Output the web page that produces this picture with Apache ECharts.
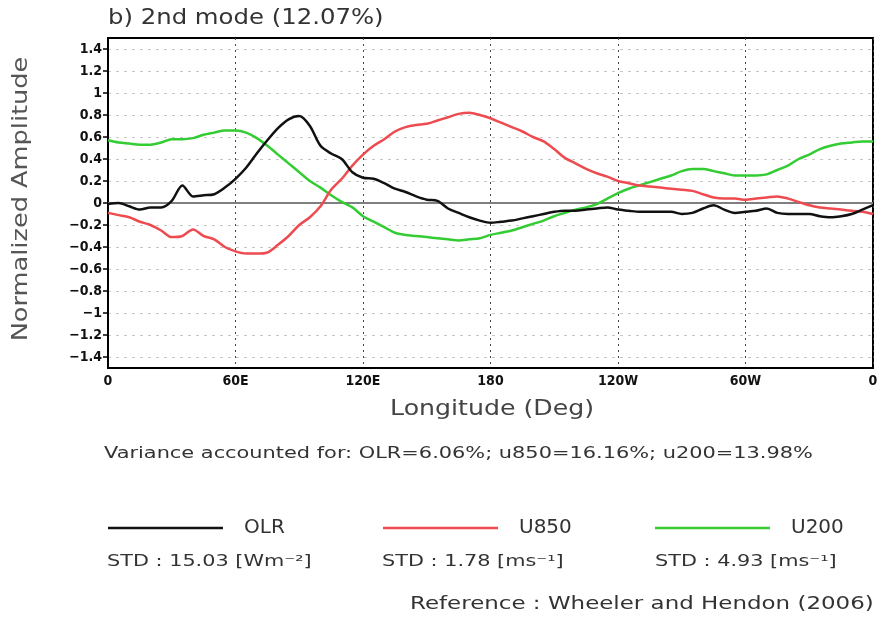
<!DOCTYPE html>
<html>
<head>
<meta charset="utf-8">
<script src="https://cdn.jsdelivr.net/npm/echarts@6/dist/echarts.min.js"></script>
<style>
  html, body { margin: 0; padding: 0; background: #fff; }
  #chart { width: 877px; height: 618px; }
</style>
</head>
<body>
<div id="chart"></div>
<script>
// Longitudes (deg east, 0..360) at 5-degree spacing
const longitudes = [0,5,10,15,20,25,30,35,40,45,50,55,60,65,70,75,80,85,90,95,100,105,110,115,120,125,130,135,140,145,150,155,160,165,170,175,180,185,190,195,200,205,210,215,220,225,230,235,240,245,250,255,260,265,270,275,280,285,290,295,300,305,310,315,320,325,330,335,340,345,350,355,360];

// EOF 2 structures (normalized amplitude)
const olr = [-0.01,0.00,-0.03,-0.06,-0.04,-0.04,0.02,0.16,0.06,0.07,0.08,0.14,0.22,0.32,0.45,0.57,0.68,0.76,0.79,0.70,0.52,0.45,0.40,0.28,0.23,0.22,0.18,0.13,0.10,0.06,0.03,0.02,-0.05,-0.09,-0.13,-0.16,-0.18,-0.17,-0.16,-0.14,-0.12,-0.10,-0.08,-0.07,-0.07,-0.06,-0.05,-0.04,-0.06,-0.07,-0.08,-0.08,-0.08,-0.08,-0.10,-0.09,-0.05,-0.02,-0.06,-0.09,-0.08,-0.07,-0.05,-0.09,-0.10,-0.10,-0.10,-0.12,-0.13,-0.12,-0.10,-0.06,-0.02];
const u850 = [-0.09,-0.11,-0.13,-0.17,-0.20,-0.25,-0.31,-0.30,-0.24,-0.30,-0.33,-0.40,-0.44,-0.46,-0.46,-0.45,-0.38,-0.30,-0.20,-0.13,-0.03,0.12,0.22,0.34,0.44,0.52,0.58,0.65,0.69,0.71,0.72,0.75,0.78,0.81,0.82,0.80,0.77,0.73,0.69,0.65,0.60,0.56,0.49,0.41,0.36,0.31,0.27,0.24,0.20,0.18,0.16,0.15,0.14,0.13,0.12,0.11,0.08,0.05,0.04,0.04,0.03,0.04,0.05,0.06,0.04,0.01,-0.02,-0.04,-0.05,-0.06,-0.07,-0.08,-0.10];
const u200 = [0.57,0.55,0.54,0.53,0.53,0.55,0.58,0.58,0.59,0.62,0.64,0.66,0.66,0.64,0.59,0.52,0.44,0.36,0.28,0.20,0.14,0.07,0.01,-0.04,-0.12,-0.17,-0.22,-0.27,-0.29,-0.30,-0.31,-0.32,-0.33,-0.34,-0.33,-0.32,-0.29,-0.27,-0.25,-0.22,-0.19,-0.16,-0.12,-0.09,-0.06,-0.04,-0.01,0.04,0.09,0.13,0.16,0.19,0.22,0.25,0.29,0.31,0.31,0.29,0.27,0.25,0.25,0.25,0.26,0.30,0.34,0.40,0.44,0.49,0.52,0.54,0.55,0.56,0.56];

// Axis ticks
const yTicks = [-1.4,-1.2,-1,-0.8,-0.6,-0.4,-0.2,0,0.2,0.4,0.6,0.8,1,1.2,1.4];
const xTickValues = [0,60,120,180,240,300,360];
const xTickLabels = ['0','60E','120E','180','120W','60W','0'];

const seriesNames = ['OLR','U850','U200'];
const seriesColors = ['#111111','#ee4b50','#33cc33'];
const stdTexts = ['STD : 15.03 [Wm\u207B\u00B2]','STD : 1.78 [ms\u207B\u00B9]','STD : 4.93 [ms\u207B\u00B9]'];

const titleText = 'b) 2nd mode (12.07%)';
const xAxisTitle = 'Longitude (Deg)';
const yAxisTitle = 'Normalized Amplitude';
const varianceText = 'Variance accounted for: OLR=6.06%; u850=16.16%; u200=13.98%';
const refText = 'Reference : Wheeler and Hendon (2006)';

const pairs = (vals) => longitudes.map((lon, i) => [lon, vals[i]]);

const tickFont = '"DejaVu Sans Condensed","Liberation Sans Narrow",sans-serif';
const textFont = '"DejaVu Sans",sans-serif';

const chart = echarts.init(document.getElementById('chart'), null, { renderer: 'canvas' });

const lineSeries = (name, vals, color, z) => ({
  name: name,
  type: 'line',
  data: pairs(vals),
  showSymbol: false,
  symbol: 'none',
  smooth: 0.3,
  z: z,
  lineStyle: { color: color, width: 2.5 },
  itemStyle: { color: color }
});

const green = lineSeries('U200', u200, seriesColors[2], 3);
green.markLine = {
  silent: true,
  symbol: 'none',
  label: { show: false },
  lineStyle: { color: '#aaaaaa', type: 'solid', width: 1.5 },
  data: [{ yAxis: 0 }],
  z: 1
};

const legendLefts = [103, 378, 650];
const legends = seriesNames.map((n, i) => ({
  data: [n],
  left: legendLefts[i],
  top: 513,
  icon: 'rect',
  itemWidth: 115,
  itemHeight: 2.5,
  selectedMode: false,
  textStyle: { fontFamily: textFont, fontSize: 20, color: '#333', padding: [0, 0, 0, 16] }
}));

const option = {
  animation: false,
  backgroundColor: '#ffffff',
  grid: {
    left: 108, right: 4, top: 38, bottom: 250,
    outerBoundsMode: 'none',
    containLabel: false,
    show: true, borderColor: '#000', borderWidth: 2, backgroundColor: 'transparent'
  },
  legend: legends,
  xAxis: {
    type: 'value',
    min: 0, max: 360, interval: 60,
    axisLine: { show: true, lineStyle: { color: '#000', width: 2 } },
    axisTick: { show: false },
    axisLabel: {
      margin: 6,
      fontFamily: tickFont, fontWeight: 'bold', fontSize: 14, color: '#111',
      formatter: (v) => xTickLabels[xTickValues.indexOf(v)] ?? ''
    },
    splitLine: { show: true, lineStyle: { color: '#444', type: [2, 4], width: 1 } }
  },
  yAxis: {
    type: 'value',
    min: -1.5, max: 1.5,
    axisLine: { show: true, lineStyle: { color: '#000', width: 2 } },
    axisTick: { show: true, customValues: yTicks, length: 5, inside: false, lineStyle: { color: '#000', width: 1.5 } },
    axisLabel: {
      customValues: yTicks,
      margin: 6,
      fontFamily: tickFont, fontWeight: 'bold', fontSize: 14, color: '#111',
      formatter: (v) => {
        const s = String(parseFloat(Number(v).toFixed(1)));
        return s.replace('-', '\u2212');
      }
    },
    splitLine: { show: true, lineStyle: { color: '#c8c8c8', type: [3, 5], width: 1 } }
  },
  graphic: [
    { type: 'text', x: 108, y: 8, scaleX: 1.16, style: { text: titleText, font: '21px ' + textFont, fill: '#333' } },
    { type: 'text', x: 22, y: 199, rotation: Math.PI / 2, scaleX: 1.22,
      style: { text: yAxisTitle, font: '21px ' + textFont, fill: '#555', align: 'center', verticalAlign: 'middle' } },
    { type: 'text', x: 492, y: 410, scaleX: 1.2,
      style: { text: xAxisTitle, font: '21px ' + textFont, fill: '#444', align: 'center', verticalAlign: 'middle' } },
    { type: 'text', x: 104, y: 446, scaleX: 1.305, style: { text: varianceText, font: '16px ' + textFont, fill: '#333' } },
    { type: 'text', x: 107, y: 554, scaleX: 1.3, style: { text: stdTexts[0], font: '16px ' + textFont, fill: '#333' } },
    { type: 'text', x: 382, y: 554, scaleX: 1.3, style: { text: stdTexts[1], font: '16px ' + textFont, fill: '#333' } },
    { type: 'text', x: 655, y: 554, scaleX: 1.3, style: { text: stdTexts[2], font: '16px ' + textFont, fill: '#333' } },
    { type: 'text', x: 410, y: 596, scaleX: 1.35, style: { text: refText, font: '17px ' + textFont, fill: '#333' } }
  ],
  series: [
    green,
    lineSeries('U850', u850, seriesColors[1], 4),
    lineSeries('OLR', olr, seriesColors[0], 5)
  ]
};

chart.setOption(option);
</script>
</body>
</html>
